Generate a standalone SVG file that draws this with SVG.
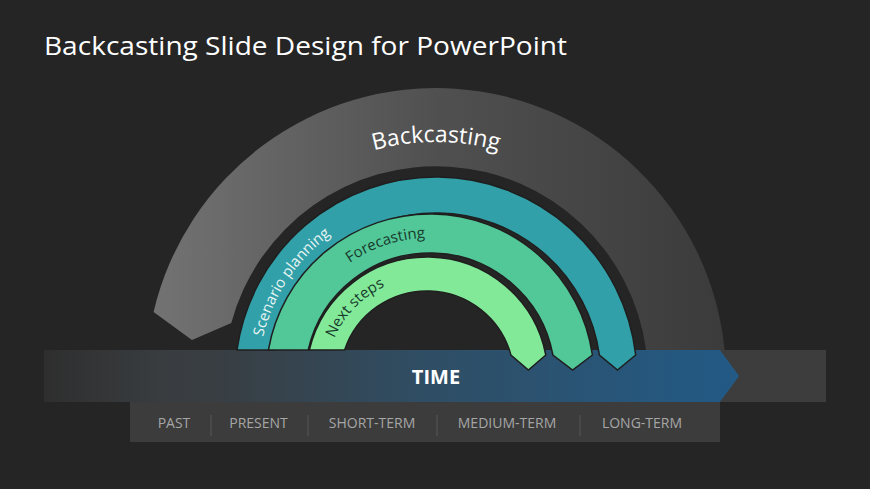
<svg xmlns="http://www.w3.org/2000/svg" width="870" height="489" viewBox="0 0 870 489">
  <defs>
    <style>
      .f { font-family: "Open Sans", "Liberation Sans", sans-serif; }
      .title { font-size: 26px; fill: #ffffff; }
      .lbl { font-size: 14px; fill: #a6a6a6; text-anchor: middle; }
      .sep { stroke: #565656; stroke-width: 1; }
      .band { stroke: #1f1f1f; stroke-width: 1.5; stroke-linejoin: miter; }
      .arcTxtDark { font-size: 15px; fill: #173a2c; }
      .arcTxtLight { font-size: 15px; fill: #e8f4f4; }
    </style>
    <linearGradient id="grayArc" gradientUnits="userSpaceOnUse" x1="150" y1="0" x2="725" y2="0">
      <stop offset="0" stop-color="#737373"/>
      <stop offset="0.5" stop-color="#505050"/>
      <stop offset="1" stop-color="#3b3b3b"/>
    </linearGradient>
    <linearGradient id="barBase" gradientUnits="userSpaceOnUse" x1="44" y1="0" x2="826" y2="0">
      <stop offset="0" stop-color="#2e2e2e"/>
      <stop offset="0.15" stop-color="#3a3a3a"/>
      <stop offset="1" stop-color="#3d3d3d"/>
    </linearGradient>
    <linearGradient id="blue" gradientUnits="userSpaceOnUse" x1="44" y1="0" x2="739" y2="0">
      <stop offset="0" stop-color="#2a5a7e" stop-opacity="0"/>
      <stop offset="0.25" stop-color="#2a5a7e" stop-opacity="0.12"/>
      <stop offset="0.55" stop-color="#275a80" stop-opacity="0.6"/>
      <stop offset="1" stop-color="#225a86" stop-opacity="1"/>
    </linearGradient>
    <path id="pBack" d="M 200,378 A 236 236 0 0 1 672,378"/>
    <path id="pScen" d="M 325.2,517.3 A 178 178 0 0 1 520.9,221.6"/>
    <path id="pFore" d="M 293.8,410.5 A 140 140 0 0 1 558.5,322.4"/>
    <path id="pNext" d="M 350.6,444.0 A 101 101 0 0 1 490.8,299.7"/>
  </defs>

  <rect x="0" y="0" width="870" height="489" fill="#252525"/>

  <text class="f title" x="44" y="55" textLength="523" lengthAdjust="spacingAndGlyphs">Backcasting Slide Design for PowerPoint</text>

  <g id="backcasting">
    <path d="M 153.6,312 A 290 290 0 0 1 724.6,350 L 646.1,350 A 212 212 0 0 0 231.3,323 L 192,340 Z" fill="url(#grayArc)"/>
    <text class="f" font-size="23" fill="#ffffff"><textPath href="#pBack" startOffset="50%" text-anchor="middle">Backcasting</textPath></text>
  </g>

  <g id="time-bar">
    <rect x="44" y="350" width="782" height="52" fill="url(#barBase)"/>
    <polygon points="44,350 720,350 739,376 720,402 44,402" fill="url(#blue)"/>
    <text class="f" x="436" y="384" font-size="20" font-weight="bold" fill="#ffffff" text-anchor="middle">TIME</text>
  </g>

  <g id="scenario-planning">
    <path class="band" d="M 237,350 A 201 201 0 0 1 635.7,355 L 617.5,370 L 599.4,355 A 165 165 0 0 0 273.4,350 Z" fill="#31a0a8"/>
    <text class="f arcTxtLight"><textPath href="#pScen" startOffset="50%" text-anchor="middle">Scenario planning</textPath></text>
  </g>

  <g id="forecasting">
    <path class="band" d="M 268.4,350 A 164 164 0 0 1 592.4,355 L 572.6,370 L 552.9,355 A 125 125 0 0 0 308.2,350 Z" fill="#52c898"/>
    <text class="f arcTxtDark"><textPath href="#pFore" startOffset="50%" text-anchor="middle">Forecasting</textPath></text>
  </g>

  <g id="next-steps">
    <path class="band" d="M 309.3,350 A 121 121 0 0 1 545.8,355 L 528.4,370 L 510.9,355 A 87 87 0 0 0 344.6,350 Z" fill="#82e998"/>
    <text class="f arcTxtDark"><textPath href="#pNext" startOffset="50%" text-anchor="middle">Next steps</textPath></text>
  </g>

  <g id="timeline-labels">
    <rect x="130" y="402" width="590" height="40" fill="#3c3c3c"/>
    <line class="sep" x1="211" y1="415" x2="211" y2="436"/>
    <line class="sep" x1="308" y1="415" x2="308" y2="436"/>
    <line class="sep" x1="437" y1="415" x2="437" y2="436"/>
    <line class="sep" x1="580" y1="415" x2="580" y2="436"/>
    <text class="f lbl" x="174" y="428">PAST</text>
    <text class="f lbl" x="258.5" y="428">PRESENT</text>
    <text class="f lbl" x="372" y="428">SHORT-TERM</text>
    <text class="f lbl" x="507" y="428">MEDIUM-TERM</text>
    <text class="f lbl" x="642" y="428">LONG-TERM</text>
  </g>

  <g id="connectors"/>
</svg>
